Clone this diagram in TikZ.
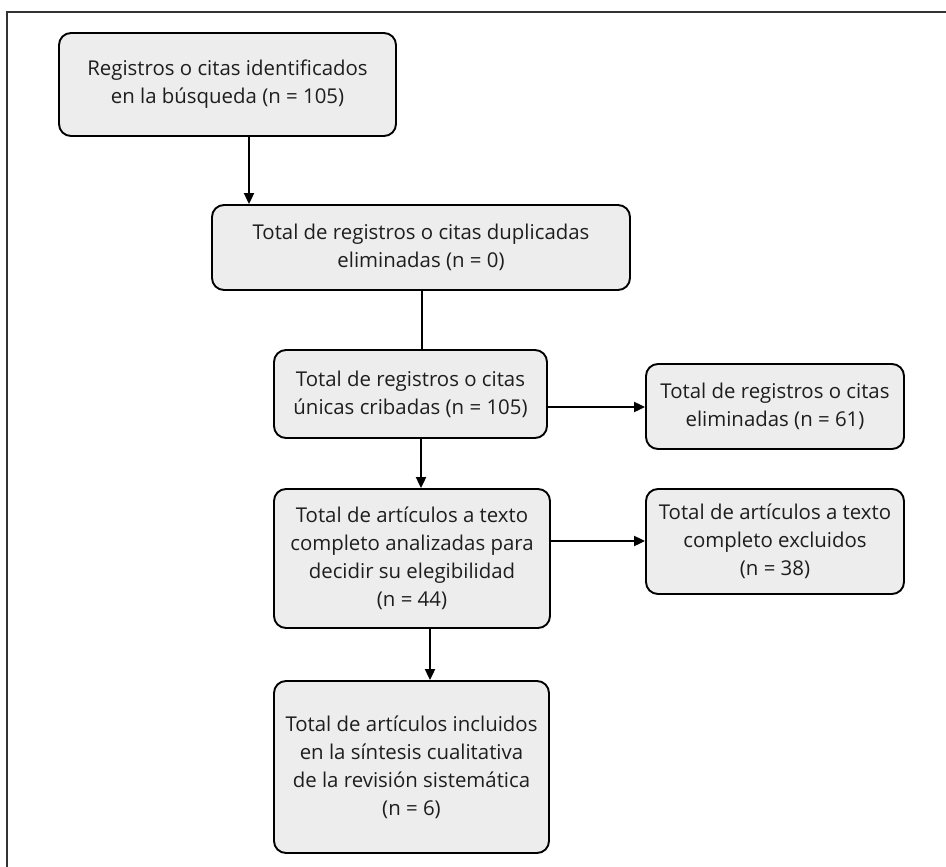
\documentclass[tikz,border=0pt]{standalone}
\usepackage{fontspec}
\setmainfont{Open Sans}
\usetikzlibrary{arrows.meta}
\definecolor{boxfill}{HTML}{ECEDEC}
\definecolor{txt}{HTML}{1E1E1E}
\begin{document}
\begin{tikzpicture}[x=1pt,y=-1pt,
  box/.style={draw=black, line width=1.9pt, fill=boxfill, rounded corners=12pt, align=center, inner sep=0pt, text=txt, font=\fontsize{20.4}{28}\selectfont},
  arr/.style={line width=2.1pt, -{Triangle[length=11pt,width=10pt]}},
  ln/.style={line width=2.1pt},
  frame/.style={line width=1.4pt, draw=black!80}]
\useasboundingbox (0,0) rectangle (946,867);
\draw[frame] (7,867) -- (7,12) -- (946,12);

\node[box, minimum width=337pt, minimum height=103pt] (b1) at (227.5,84.5) {Registros o citas identificados\\en la búsqueda (n = 105)};
\node[box, minimum width=418pt, minimum height=85pt] (b2) at (421,247.5) {Total de registros o citas duplicadas\\eliminadas (n = 0)};
\node[box, minimum width=273pt, minimum height=88pt] (b3) at (410.5,394) {Total de registros o citas\\únicas cribadas (n = 105)};
\node[box, minimum width=276pt, minimum height=139pt] (b4) at (412,558.5) {Total de artículos a texto\\completo analizadas para\\decidir su elegibilidad\\(n = 44)};
\node[box, minimum width=275pt, minimum height=172pt] (b5) at (411.5,767) {Total de artículos incluidos\\en la síntesis cualitativa\\de la revisión sistemática\\(n = 6)};
\node[box, minimum width=258pt, minimum height=85pt] (r1) at (775,406.5) {Total de registros o citas\\eliminadas (n = 61)};
\node[box, minimum width=258pt, minimum height=105pt] (r2) at (775,541.5) {Total de artículos a texto\\completo excluidos\\(n = 38)};

\coordinate (x1) at (249,0);
\coordinate (x2) at (422,0);
\coordinate (x3) at (421,0);
\coordinate (x4) at (430,0);
\coordinate (y1) at (0,407);
\coordinate (y2) at (0,541);

\draw[arr] (b1.south -| x1) -- (b2.north -| x1);
\draw[ln] (b2.south -| x2) -- (b3.north -| x2);
\draw[arr] (b3.south -| x3) -- (b4.north -| x3);
\draw[arr] (b4.south -| x4) -- (b5.north -| x4);
\draw[arr] (b3.east |- y1) -- (r1.west |- y1);
\draw[arr] (b4.east |- y2) -- (r2.west |- y2);
\end{tikzpicture}
\end{document}
